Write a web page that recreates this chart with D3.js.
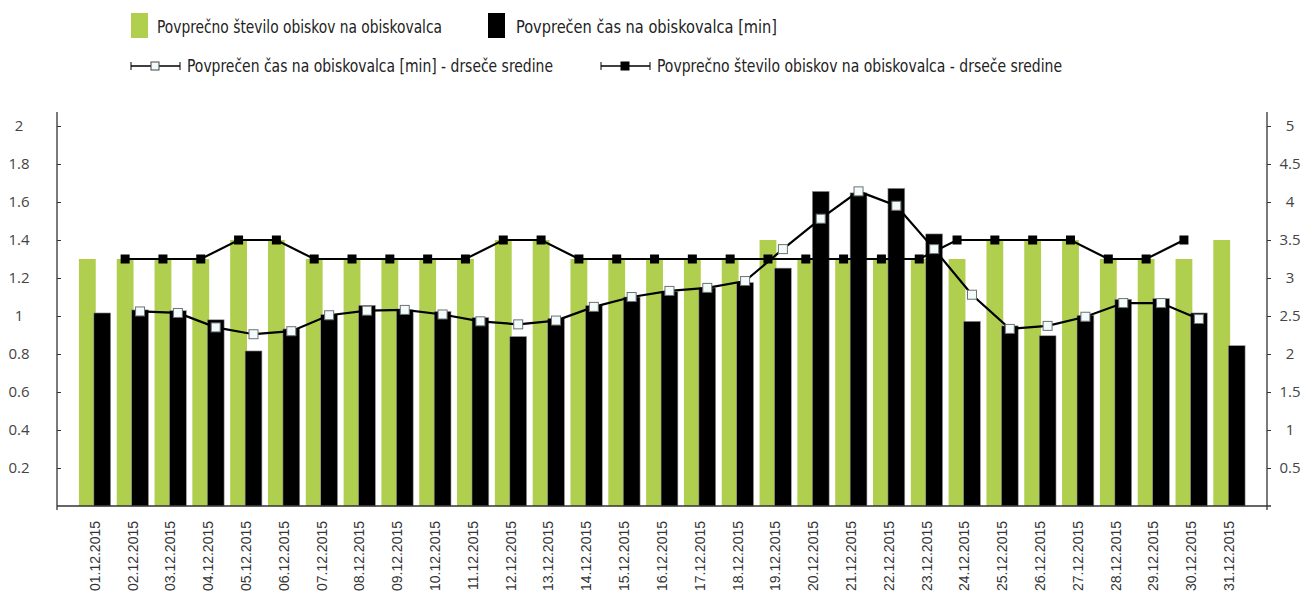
<!DOCTYPE html>
<html>
<head>
  <meta charset="utf-8">
  <title>Obiski december 2015</title>
  <script src="https://cdn.jsdelivr.net/npm/d3@7/dist/d3.min.js"></script>
  <style>
    body { margin: 0; background: #ffffff; }
  </style>
</head>
<body>
  <svg width="1303" height="598" id="mainsvg"></svg>
  <script>
    // data
    const dates = ['01.12.2015', '02.12.2015', '03.12.2015', '04.12.2015', '05.12.2015', '06.12.2015',
      '07.12.2015', '08.12.2015', '09.12.2015', '10.12.2015', '11.12.2015', '12.12.2015', '13.12.2015',
      '14.12.2015', '15.12.2015', '16.12.2015', '17.12.2015', '18.12.2015', '19.12.2015', '20.12.2015',
      '21.12.2015', '22.12.2015', '23.12.2015', '24.12.2015', '25.12.2015', '26.12.2015', '27.12.2015',
      '28.12.2015', '29.12.2015', '30.12.2015', '31.12.2015'];
    // Povprečno število obiskov na obiskovalca (left axis)
    const visits = [1.3, 1.3, 1.3, 1.3, 1.4, 1.4, 1.3, 1.3, 1.3, 1.3, 1.3, 1.4, 1.4, 1.3, 1.3, 1.3,
      1.3, 1.3, 1.4, 1.3, 1.3, 1.3, 1.3, 1.3, 1.4, 1.4, 1.4, 1.3, 1.3, 1.3, 1.4];
    // Povprečen čas na obiskovalca [min] (right axis)
    const minutes = [2.54, 2.58, 2.57, 2.45, 2.04, 2.33, 2.52, 2.64, 2.58, 2.56, 2.48, 2.23, 2.47,
      2.64, 2.75, 2.82, 2.87, 2.94, 3.13, 4.14, 4.12, 4.18, 3.58, 2.43, 2.37, 2.24, 2.51, 2.72,
      2.73, 2.54, 2.11];
    // moving averages, null where there is no point
    const visitsMA = [null, 1.3, 1.3, 1.3, 1.4, 1.4, 1.3, 1.3, 1.3, 1.3, 1.3, 1.4, 1.4, 1.3, 1.3,
      1.3, 1.3, 1.3, 1.3, 1.3, 1.3, 1.3, 1.3, 1.4, 1.4, 1.4, 1.4, 1.3, 1.3, 1.4, null];
    const minutesMA = [null, 2.56, 2.54, 2.35, 2.26, 2.30, 2.51, 2.57, 2.58, 2.52, 2.43, 2.39, 2.44,
      2.62, 2.75, 2.83, 2.87, 2.96, 3.38, 3.78, 4.14, 3.95, 3.38, 2.78, 2.33, 2.37, 2.49, 2.67,
      2.67, 2.46, null];
    const leftTicks = [0.2, 0.4, 0.6, 0.8, 1, 1.2, 1.4, 1.6, 1.8, 2];
    const rightTicks = [0.5, 1, 1.5, 2, 2.5, 3, 3.5, 4, 4.5, 5];
    const labels = {
      visits: 'Povprečno število obiskov na obiskovalca',
      minutes: 'Povprečen čas na obiskovalca [min]',
      minutesMA: 'Povprečen čas na obiskovalca [min] - drseče sredine',
      visitsMA: 'Povprečno število obiskov na obiskovalca - drseče sredine'
    };

    const svg = d3.select('#mainsvg');
    const green = '#b0cf4f';
    const axisColor = '#333333';
    const legendFont = "'DejaVu Sans Condensed', 'DejaVu Sans', sans-serif";
    const tickFont = "'Open Sans', sans-serif";

    const plot = { left: 57, right: 1267, top: 112, bottom: 506, yMax: 126 };

    const rows = dates.map((d, i) => ({
      date: d, visits: visits[i], minutes: minutes[i], visitsMA: visitsMA[i], minutesMA: minutesMA[i]
    }));

    const xScale = d3.scaleBand()
      .domain(dates)
      .range([plot.left + 3, plot.right - 3])
      .paddingInner(0.16)
      .paddingOuter(0.5);
    const bw = xScale.bandwidth();
    const barW = bw * 0.53;
    const blackOff = bw * 0.47;

    const yLeft = d3.scaleLinear().domain([0, 2]).range([plot.bottom, plot.yMax]);
    const yRight = d3.scaleLinear().domain([0, 5]).range([plot.bottom, plot.yMax]);

    // bars
    svg.append('g').selectAll('rect').data(rows).join('rect')
      .attr('x', d => xScale(d.date))
      .attr('y', d => yLeft(d.visits))
      .attr('width', barW)
      .attr('height', d => plot.bottom - yLeft(d.visits))
      .attr('fill', green);

    svg.append('g').selectAll('rect').data(rows).join('rect')
      .attr('x', d => xScale(d.date) + blackOff)
      .attr('y', d => yRight(d.minutes))
      .attr('width', barW)
      .attr('height', d => plot.bottom - yRight(d.minutes))
      .attr('fill', '#000000')
      .attr('stroke', '#9a9a9a')
      .attr('stroke-width', 0.6);

    // lines
    const visitsLine = d3.line()
      .defined(d => d.visitsMA !== null)
      .x(d => xScale(d.date) + barW / 2)
      .y(d => yLeft(d.visitsMA));
    const minutesLine = d3.line()
      .defined(d => d.minutesMA !== null)
      .x(d => xScale(d.date) + blackOff + barW / 2)
      .y(d => yRight(d.minutesMA));

    svg.append('path').datum(rows)
      .attr('d', visitsLine)
      .attr('fill', 'none').attr('stroke', '#000').attr('stroke-width', 2.2);
    svg.append('path').datum(rows)
      .attr('d', minutesLine)
      .attr('fill', 'none').attr('stroke', '#000').attr('stroke-width', 2.2);

    const ms = 9;
    svg.append('g').selectAll('rect')
      .data(rows.filter(d => d.visitsMA !== null)).join('rect')
      .attr('x', d => xScale(d.date) + barW / 2 - ms / 2)
      .attr('y', d => yLeft(d.visitsMA) - ms / 2)
      .attr('width', ms).attr('height', ms)
      .attr('fill', '#000');
    svg.append('g').selectAll('rect')
      .data(rows.filter(d => d.minutesMA !== null)).join('rect')
      .attr('x', d => xScale(d.date) + blackOff + barW / 2 - ms / 2)
      .attr('y', d => yRight(d.minutesMA) - ms / 2)
      .attr('width', ms).attr('height', ms)
      .attr('fill', '#f2fcfc')
      .attr('stroke', '#707070')
      .attr('stroke-width', 1);

    // axes
    const leftAxis = svg.append('g')
      .attr('transform', `translate(${plot.left},0)`)
      .call(d3.axisLeft(yLeft).tickValues(leftTicks).tickSize(-4).tickFormat(d3.format('')));
    leftAxis.select('.domain').remove();
    leftAxis.selectAll('line').attr('stroke', axisColor);
    leftAxis.selectAll('text')
      .attr('x', -38).attr('text-anchor', 'middle')
      .attr('font-family', tickFont).attr('font-size', 15).attr('fill', '#444');

    const rightAxis = svg.append('g')
      .attr('transform', `translate(${plot.right},0)`)
      .call(d3.axisRight(yRight).tickValues(rightTicks).tickSize(4).tickFormat(d3.format('')));
    rightAxis.select('.domain').remove();
    rightAxis.selectAll('line').attr('stroke', axisColor);
    rightAxis.selectAll('text')
      .attr('x', 23).attr('text-anchor', 'middle')
      .attr('font-family', tickFont).attr('font-size', 15).attr('fill', '#444');

    const frame = svg.append('g').attr('stroke', axisColor).attr('stroke-width', 1.3);
    frame.append('line').attr('x1', plot.left).attr('x2', plot.left).attr('y1', plot.top).attr('y2', plot.bottom + 4);
    frame.append('line').attr('x1', plot.right).attr('x2', plot.right).attr('y1', plot.top).attr('y2', plot.bottom + 4);
    frame.append('line').attr('x1', plot.left).attr('x2', plot.right + 4).attr('y1', plot.bottom).attr('y2', plot.bottom);

    // date labels
    svg.append('g').selectAll('text').data(dates).join('text')
      .attr('transform', d => `translate(${xScale(d) + bw / 2},521) rotate(-90)`)
      .attr('dy', '0.35em')
      .attr('text-anchor', 'end')
      .attr('font-family', "'Liberation Sans', Arial, sans-serif")
      .attr('font-size', 14)
      .attr('fill', '#333')
      .text(d => d);

    // legend
    const lg = svg.append('g').attr('font-family', legendFont).attr('font-size', 17).attr('fill', '#222');
    lg.append('rect').attr('x', 131).attr('y', 13).attr('width', 17).attr('height', 25).attr('fill', green);
    lg.append('text').attr('x', 157).attr('y', 33)
      .attr('textLength', 285).attr('lengthAdjust', 'spacingAndGlyphs').text(labels.visits);
    lg.append('rect').attr('x', 488).attr('y', 13).attr('width', 17).attr('height', 25).attr('fill', '#000');
    lg.append('text').attr('x', 516).attr('y', 33)
      .attr('textLength', 261).attr('lengthAdjust', 'spacingAndGlyphs').text(labels.minutes);

    const legendLine = function (x0, filled, text, tx, tl) {
      const g = lg.append('g');
      g.append('line').attr('x1', x0).attr('x2', x0 + 49).attr('y1', 66).attr('y2', 66)
        .attr('stroke', '#000').attr('stroke-width', 1.5);
      g.append('line').attr('x1', x0).attr('x2', x0).attr('y1', 62).attr('y2', 70)
        .attr('stroke', '#000').attr('stroke-width', 1);
      g.append('line').attr('x1', x0 + 49).attr('x2', x0 + 49).attr('y1', 62).attr('y2', 70)
        .attr('stroke', '#000').attr('stroke-width', 1);
      g.append('rect').attr('x', x0 + 20).attr('y', 62).attr('width', 8).attr('height', 8)
        .attr('fill', filled ? '#000' : '#f2fcfc').attr('stroke', filled ? '#000' : '#444');
      lg.append('text').attr('x', tx).attr('y', 72)
        .attr('textLength', tl).attr('lengthAdjust', 'spacingAndGlyphs').text(text);
    };
    legendLine(131, false, labels.minutesMA, 187, 366);
    legendLine(601, true, labels.visitsMA, 657, 405);
  </script>
</body>
</html>
